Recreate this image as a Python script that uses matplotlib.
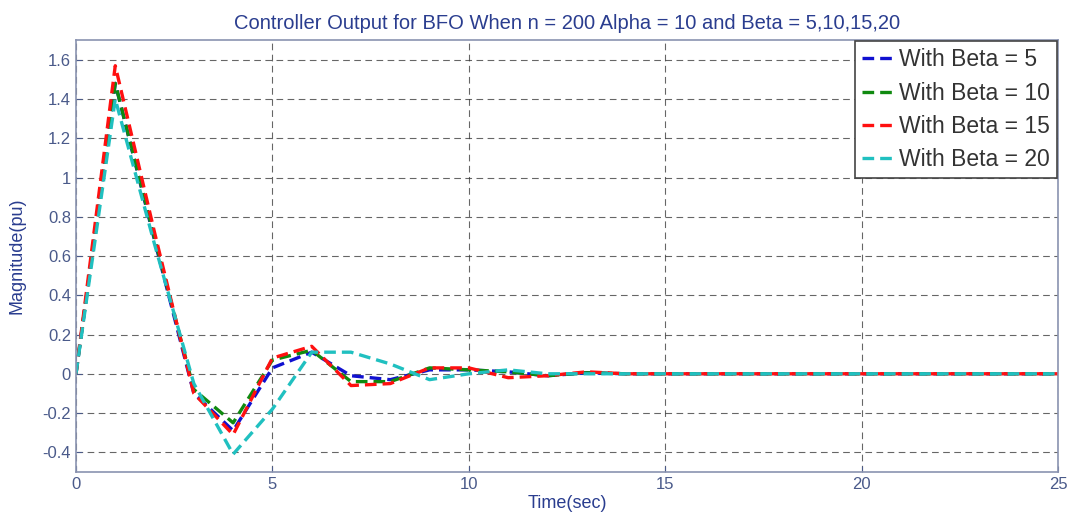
import matplotlib

matplotlib.use("Agg")
import matplotlib.pyplot as plt

# time samples (sec) and controller output for each beta
t = list(range(0, 26))
beta5 = [0, 1.48, 0.68, -0.10, -0.29, 0.03, 0.11, -0.01, -0.03, 0.02, 0.02, 0.01, -0.01,
         0.005, 0, 0, 0, 0, 0, 0, 0, 0, 0, 0, 0, 0]
beta10 = [0, 1.48, 0.69, -0.08, -0.25, 0.07, 0.12, -0.04, -0.04, 0.03, 0.02, 0.01, -0.01,
          0.005, 0, 0, 0, 0, 0, 0, 0, 0, 0, 0, 0, 0]
beta15 = [0, 1.57, 0.72, -0.10, -0.31, 0.08, 0.14, -0.06, -0.05, 0.03, 0.03, -0.02, -0.01,
          0.01, 0, 0, 0, 0, 0, 0, 0, 0, 0, 0, 0, 0]
beta20 = [0, 1.40, 0.66, -0.05, -0.41, -0.18, 0.11, 0.11, 0.05, -0.03, 0.0, 0.02, 0.0,
          0, 0, 0, 0, 0, 0, 0, 0, 0, 0, 0, 0, 0]
labels = ["With Beta = 5", "With Beta = 10", "With Beta = 15", "With Beta = 20"]
colors = ["#1010d0", "#108a10", "#ff1010", "#20c0c0"]

AXC = "#4a5a8a"
plt.rcParams["font.family"] = ["Liberation Sans", "DejaVu Sans"]

fig = plt.figure(figsize=(10.70, 5.22), dpi=100)
ax = fig.add_axes([0.071, 0.096, 0.918, 0.827])

for y, lab, c in zip([beta5, beta10, beta15, beta20], labels, colors):
    ax.plot(t, y, ls="--", color=c, lw=2.4, label=lab, dashes=(3.5, 1.8))

ax.set_xlim(0, 25)
ax.set_ylim(-0.5, 1.7)
ax.set_xticks([0, 5, 10, 15, 20, 25])
yt = [-0.4, -0.2, 0, 0.2, 0.4, 0.6, 0.8, 1, 1.2, 1.4, 1.6]
ax.set_yticks(yt)
ax.set_yticklabels(["-0.4", "-0.2", "0", "0.2", "0.4", "0.6", "0.8", "1", "1.2", "1.4", "1.6"])
ax.grid(True, ls=(0, (6, 4)), color="#333333", lw=0.8, alpha=0.75)
ax.tick_params(colors=AXC, labelsize=12, direction="in", length=4)
for s in ax.spines.values():
    s.set_color("#8a93b0")
    s.set_linewidth(1.2)

ax.set_title("Controller Output for BFO When n = 200 Alpha = 10 and Beta = 5,10,15,20",
             color="#2a3d8f", fontsize=14.5, pad=8)
ax.set_xlabel("Time(sec)", color="#2a3d8f", fontsize=13, labelpad=2)
ax.set_ylabel("Magnitude(pu)", color="#2a3d8f", fontsize=13, labelpad=12)

leg = ax.legend(loc="upper right", handlelength=1.5, handletextpad=0.15,
                borderaxespad=0.05, labelspacing=0.45, borderpad=0.3,
                fancybox=False, framealpha=1,
                prop={"family": ["Liberation Sans", "DejaVu Sans"], "size": 16.5})
leg.get_frame().set_edgecolor("#444444")
leg.get_frame().set_linewidth(1.2)
for txt in leg.get_texts():
    txt.set_color("#333333")

fig.savefig("out.png", dpi=100)
